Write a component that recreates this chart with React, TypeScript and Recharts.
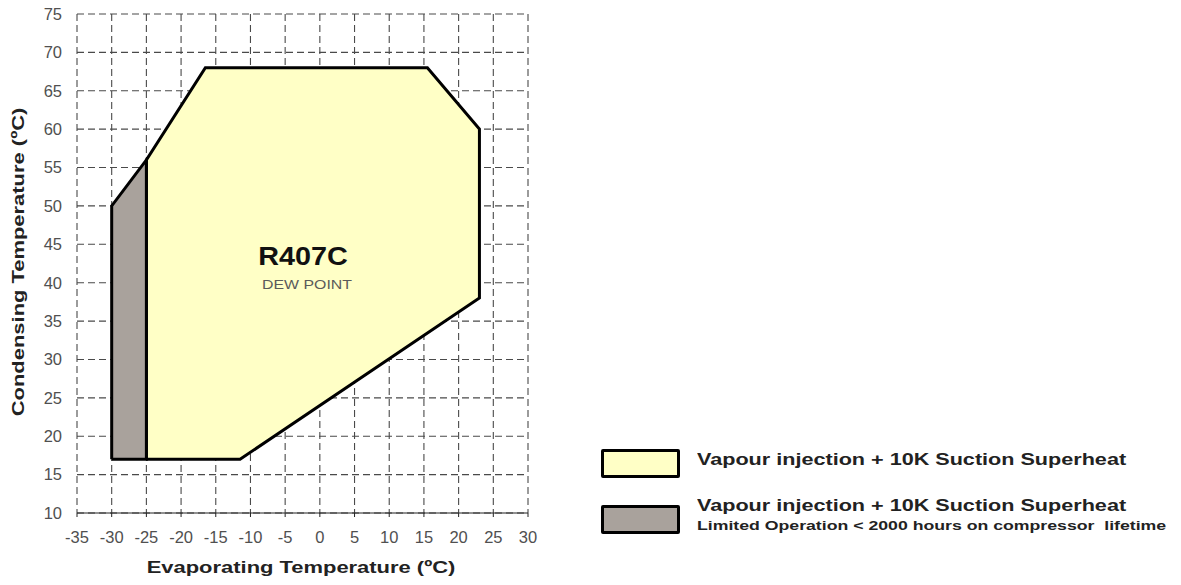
import { ScatterChart, Scatter, XAxis, YAxis, CartesianGrid } from 'recharts';

// envelope corners (evaporating °C, condensing °C)
const mainEvap = [-25, -11.5, 23, 23, 15.5, -16.5, -25, -25];
const mainCond = [17, 17, 38, 60, 68, 68, 56, 17];
const limitedEvap = [-30, -25, -25, -30, -30];
const limitedCond = [17, 17, 56, 50, 17];

const xTicks = [-35, -30, -25, -20, -15, -10, -5, 0, 5, 10, 15, 20, 25, 30];
const yTicks = [10, 15, 20, 25, 30, 35, 40, 45, 50, 55, 60, 65, 70, 75];

const mainData = mainEvap.map((x, i) => ({ x, y: mainCond[i] }));
const limitedData = limitedEvap.map((x, i) => ({ x, y: limitedCond[i] }));

const YELLOW = '#ffffc6';
const GREY = '#a9a29c';
const FONT = 'Arial, "Liberation Sans", sans-serif';

const noDot = () => <g />;

// the source picture is a little stretched sideways, so text is widened to fit
const wide = (k: number, rot = ''): any => ({
  position: 'absolute',
  whiteSpace: 'nowrap',
  transform: `translate(-50%, -50%) ${rot} scaleX(${k})`,
});

export default function App() {
  return (
    <div style={{ position: 'absolute', left: 0, top: 0, width: 1181, height: 585, background: '#fff', fontFamily: FONT }}>
      <ScatterChart width={1181} height={585} margin={{ top: 14, right: 653, bottom: 42, left: 32 }}>
        <CartesianGrid stroke="#4a4a4a" strokeDasharray="7 4" strokeWidth={1.1} />
        <XAxis
          type="number"
          dataKey="x"
          domain={[-35, 30]}
          ticks={xTicks}
          interval={0}
          height={30}
          stroke="#222"
          tickSize={4}
          tickMargin={14}
          fontSize={16.5}
          tick={{ fontSize: 16.5, fill: '#505050', fontFamily: FONT }}
        />
        <YAxis
          type="number"
          dataKey="y"
          domain={[10, 75]}
          ticks={yTicks}
          interval={0}
          width={45}
          axisLine={false}
          tickLine={false}
          tickSize={0}
          tickMargin={15}
          fontSize={16.5}
          tick={{ fontSize: 16.5, fill: '#505050', fontFamily: FONT }}
        />
        <Scatter
          data={mainData}
          isAnimationActive={false}
          shape={noDot}
          line={{ fill: YELLOW, stroke: '#000', strokeWidth: 3, strokeLinejoin: 'miter' }}
          lineJointType="linear"
        />
        <Scatter
          data={limitedData}
          isAnimationActive={false}
          shape={noDot}
          line={{ fill: GREY, stroke: '#000', strokeWidth: 3, strokeLinejoin: 'miter' }}
          lineJointType="linear"
        />
      </ScatterChart>

      {/* axis titles */}
      <div style={{ ...wide(1.29, 'rotate(-90deg)'), left: 19, top: 262, fontWeight: 'bold', fontSize: 17, color: '#222' }}>
        Condensing Temperature (ºC)
      </div>
      <div style={{ ...wide(1.29), left: 301, top: 568, fontWeight: 'bold', fontSize: 17, color: '#222' }}>
        Evaporating Temperature (ºC)
      </div>

      {/* envelope caption */}
      <div style={{ ...wide(1.15), left: 303, top: 256, fontWeight: 'bold', fontSize: 25, color: '#111' }}>
        R407C
      </div>
      <div style={{ ...wide(1.22), left: 307, top: 284, fontSize: 13, color: '#5a5a5a' }}>
        DEW POINT
      </div>

      {/* legend */}
      <div style={{ position: 'absolute', left: 601, top: 449, width: 73, height: 23, background: YELLOW, border: '3px solid #000', borderRadius: 2 }} />
      <div style={{ position: 'absolute', left: 697, top: 451, fontWeight: 'bold', fontSize: 16, color: '#222', whiteSpace: 'nowrap', transform: 'scaleX(1.35)', transformOrigin: 'left center' }}>
        Vapour injection + 10K Suction Superheat
      </div>
      <div style={{ position: 'absolute', left: 601, top: 505, width: 73, height: 23, background: GREY, border: '3px solid #000', borderRadius: 2 }} />
      <div style={{ position: 'absolute', left: 697, top: 497, fontWeight: 'bold', fontSize: 16, color: '#222', whiteSpace: 'nowrap', transform: 'scaleX(1.35)', transformOrigin: 'left center' }}>
        Vapour injection + 10K Suction Superheat
      </div>
      <div style={{ position: 'absolute', left: 697, top: 518, fontWeight: 'bold', fontSize: 13, color: '#222', whiteSpace: 'nowrap', transform: 'scaleX(1.36)', transformOrigin: 'left center' }}>
        Limited Operation &lt; 2000 hours on compressor&nbsp; lifetime
      </div>
    </div>
  );
}
